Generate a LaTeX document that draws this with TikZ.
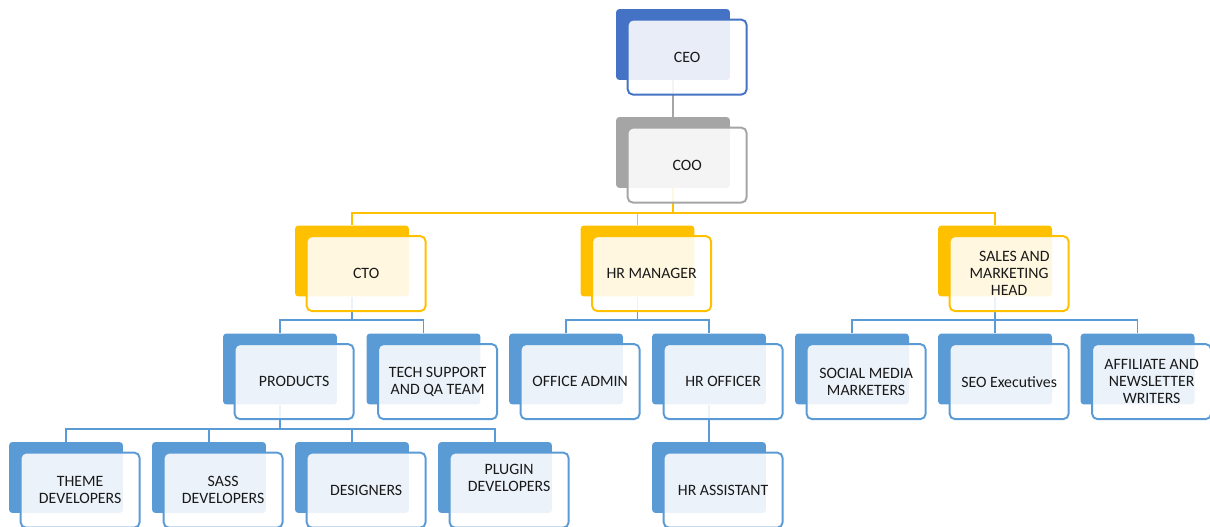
\documentclass[tikz,border=0pt]{standalone}
\usepackage{fontspec}
\setmainfont{Carlito}

\definecolor{ceoblue}{HTML}{4472C4}
\definecolor{coogrey}{HTML}{A5A5A5}
\definecolor{mgrgold}{HTML}{FFC000}
\definecolor{staffblue}{HTML}{5B9BD5}

\tikzset{
    backbox/.style={rounded corners=2pt, minimum width=2.28cm, minimum height=1.42cm, inner sep=0pt},
    frontbox/.style={anchor=north west, draw, line width=1.1pt, rounded corners=3pt,
        fill=white, fill opacity=0.88, text opacity=1, text=black!90,
        minimum width=2.38cm, minimum height=1.5cm, inner sep=2pt, align=center,
        font=\fontsize{9}{9.7}\selectfont},
    link/.style={line width=1.1pt}
}

\begin{document}
\begin{tikzpicture}[x=0.02cm, y=0.02cm]
        \useasboundingbox (0,0) rectangle (1210,-527);

        % coloured boxes behind the labels
        \foreach \n/\x/\y/\c in {ceo/673/-44.5/ceoblue, coo/673/-152.5/coogrey,
                cto/352/-261/mgrgold, hrm/637.5/-261/mgrgold, sales/995/-261/mgrgold,
                products/280/-369/staffblue, techqa/423.5/-369/staffblue,
                office/566/-369/staffblue, hroff/709/-369/staffblue,
                social/852/-369/staffblue, seo/995/-369/staffblue, affiliate/1137.5/-369/staffblue,
                theme/66/-477.5/staffblue, sass/209/-477.5/staffblue,
                designers/352/-477.5/staffblue, plugin/495/-477.5/staffblue,
                hrasst/709/-477.5/staffblue}
            \node[backbox, fill=\c] (\n) at (\x,\y) {};

        \draw[link, coogrey] (ceo.south) -- (coo.north);
        \draw[link, mgrgold] (coo.south) -- ++(0,-25);
        \draw[link, mgrgold] (cto.north) -- ++(0,12) -| (sales.north);
        \draw[link, mgrgold] (hrm.north) -- ++(0,12);

        \draw[link, staffblue] (cto.south) -- ++(0,-24);
        \draw[link, staffblue] (products.north) -- ++(0,13) -| (techqa.north);
        \draw[link, staffblue] (hrm.south) -- ++(0,-24);
        \draw[link, staffblue] (office.north) -- ++(0,13) -| (hroff.north);
        \draw[link, staffblue] (sales.south) -- ++(0,-24);
        \draw[link, staffblue] (social.north) -- ++(0,13) -| (affiliate.north);
        \draw[link, staffblue] (seo.north) -- ++(0,13);
        \draw[link, staffblue] (products.south) -- ++(0,-25);
        \draw[link, staffblue] (theme.north) -- ++(0,13) -| (plugin.north);
        \draw[link, staffblue] (sass.north) -- ++(0,13);
        \draw[link, staffblue] (designers.north) -- ++(0,13);
        \draw[link, staffblue] (hroff.south) -- (hrasst.north);

        % label boxes
        \foreach \n/\c/\t in {ceo/ceoblue/CEO, coo/coogrey/COO,
                cto/mgrgold/CTO, hrm/mgrgold/HR MANAGER,
                sales/mgrgold/{\hspace*{6pt}SALES AND\\MARKETING\\HEAD},
                products/staffblue/PRODUCTS, techqa/staffblue/{TECH SUPPORT\\AND QA TEAM},
                office/staffblue/OFFICE ADMIN, hroff/staffblue/HR OFFICER,
                social/staffblue/{SOCIAL MEDIA\\MARKETERS}, seo/staffblue/SEO Executives,
                affiliate/staffblue/{AFFILIATE AND\\NEWSLETTER\\WRITERS},
                theme/staffblue/{THEME\\DEVELOPERS}, sass/staffblue/{SASS\\DEVELOPERS},
                designers/staffblue/DESIGNERS, plugin/staffblue/{PLUGIN\\DEVELOPERS\\[4pt]\mbox{}},
                hrasst/staffblue/HR ASSISTANT}
            \node[frontbox, draw=\c] (\n-f) at ([shift={(11,-10)}]\n.north west) {\t};
\end{tikzpicture}
\end{document}
